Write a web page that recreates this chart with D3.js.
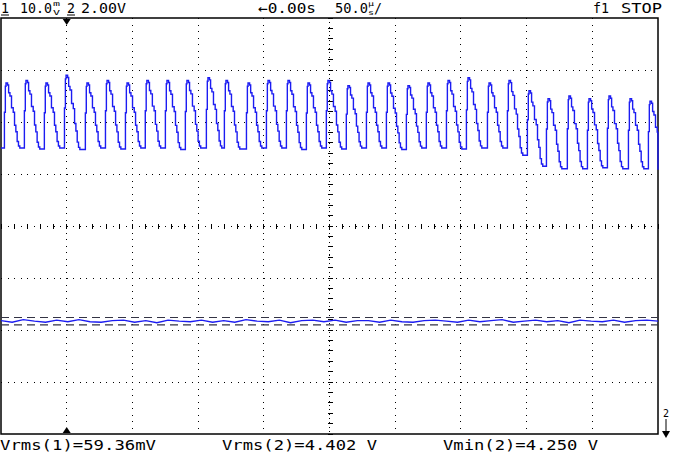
<!DOCTYPE html>
<html>
<head>
<meta charset="utf-8">
<script src="https://cdn.jsdelivr.net/npm/d3@7"></script>
<style>
  body { margin: 0; background: #fff; }
  text { font-family: "DejaVu Sans Mono", monospace; fill: #000; }
</style>
</head>
<body>
<div id="scope"></div>
<script>
// Data (time in µs, 50 µs/div; vertical in divisions from screen centre)
const peakTimes = [3.8, 19, 34.2, 49.5, 65.4, 80.7, 95.9, 111, 126.3, 141.5, 157.5, 171.2, 188,
  203.2, 218.4, 233.6, 248.8, 264, 279.3, 294.5, 309.7, 324.9, 340.2, 355.4, 371.4, 386.6,
  401.8, 416.3, 432.2, 447.5, 462.7, 478.7, 493.9];
const peakLevels = [2.75, 2.8, 2.75, 2.9, 2.75, 2.8, 2.75, 2.8, 2.8, 2.8, 2.85, 2.8, 2.75, 2.8,
  2.8, 2.75, 2.8, 2.7, 2.75, 2.75, 2.7, 2.75, 2.8, 2.85, 2.75, 2.8, 2.6, 2.45, 2.5, 2.45, 2.5, 2.45, 2.4];
const troughLevels = [1.5, 1.48, 1.5, 1.47, 1.5, 1.48, 1.5, 1.5, 1.47, 1.5, 1.5, 1.48, 1.5, 1.5,
  1.47, 1.5, 1.48, 1.5, 1.5, 1.47, 1.5, 1.5, 1.48, 1.5, 1.5, 1.36, 1.15, 1.1, 1.1, 1.12, 1.1, 1.1, 1.08];
// pulse outline relative to its peak: [offset µs, fraction low->high]
const pulseShape = [[-2.0, 0], [-1.2, 0.55], [-0.5, 0.95], [0, 1], [1.2, 0.97], [2.0, 0.85],
  [3.0, 0.8], [4.2, 0.62], [5.5, 0.55], [6.5, 0.35], [7.5, 0.25], [8.5, 0.1], [9.5, 0.03], [10.5, 0]];
const ch2Level = -1.83;
const ch2Noise = [0.01, -0.02, 0.03, 0, -0.02, 0.02, -0.01, 0.03, -0.01, -0.02, 0.01, 0.02, -0.02,
  0.01, -0.03, 0.02, 0, -0.01, 0.02, -0.02, 0.01, -0.02, 0.03, 0, -0.01, 0.02, -0.03, 0.01, 0.02,
  -0.01, 0.02, -0.02, 0.01, 0.01, -0.02, 0.02, -0.01, -0.02, 0.01, 0.02, 0, -0.02, 0.02, -0.01,
  0.01, 0.03, -0.02, 0, 0.02, -0.01, 0.01, -0.03, 0.02, 0, -0.01, 0.02, -0.02, 0.01, 0.02, 0];

const W = 674, H = 452;
const x0 = 1, x1 = 658, yTop = 18, yBot = 434;
const blue = "#1c1cf2";

const svg = d3.select("#scope").append("svg").attr("width", W).attr("height", H);

const x = d3.scaleLinear().domain([0, 500]).range([x0, x1]);
const y = d3.scaleLinear().domain([-4, 4]).range([yBot, yTop]);

// Grid
const g = svg.append("g").attr("stroke", "#000").attr("shape-rendering", "crispEdges");
d3.range(1, 10).filter(d => d !== 5).forEach(d => {
  g.append("line").attr("x1", x(d * 50)).attr("x2", x(d * 50)).attr("y1", yTop).attr("y2", yBot)
    .attr("stroke-dasharray", "1,5.5");
});
d3.range(-3, 4).filter(d => d !== 0).forEach(d => {
  g.append("line").attr("x1", x0).attr("x2", x1).attr("y1", y(d)).attr("y2", y(d))
    .attr("stroke-dasharray", "1,5.57");
});
// centre axes with minor ticks
g.append("line").attr("x1", x0).attr("x2", x1).attr("y1", y(0)).attr("y2", y(0)).attr("stroke-dasharray", "1,5.57");
g.append("line").attr("x1", x(250)).attr("x2", x(250)).attr("y1", yTop).attr("y2", yBot).attr("stroke-dasharray", "1,3.3");
d3.range(0, 501, 10).forEach(t => {
  g.append("line").attr("x1", x(t)).attr("x2", x(t)).attr("y1", y(0) - 2).attr("y2", y(0) + 3);
});
d3.range(-4, 4.01, 0.2).forEach(v => {
  g.append("line").attr("x1", x(250) - 2).attr("x2", x(250) + 3).attr("y1", y(v)).attr("y2", y(v));
});

// Frame
svg.append("rect").attr("x", x0).attr("y", yTop).attr("width", x1 - x0).attr("height", yBot - yTop)
  .attr("fill", "none").attr("stroke", "#000").attr("stroke-width", 1.5);

// Channel 2 trace (pulses)
const ch2Pts = [[0, troughLevels[0]]];
peakTimes.forEach((pt, i) => {
  const lo = troughLevels[i], hi = peakLevels[i];
  const prevLo = i > 0 ? troughLevels[i - 1] : lo;
  pulseShape.forEach(([dt, f], j) => {
    const base = j < 3 ? prevLo : lo;
    ch2Pts.push([pt + dt, base + f * (hi - base)]);
  });
});
const clipPts = ch2Pts.filter(p => p[0] >= 0 && p[0] <= 500);
clipPts.push([500, 1.08]);

const line = d3.line().x(d => x(d[0])).y(d => y(d[1])).curve(d3.curveStepAfter);
svg.append("path").datum(clipPts).attr("d", line)
  .attr("fill", "none").attr("stroke", blue).attr("stroke-width", 1.4);

// Channel 1 trace (flat, noisy) with envelope dashes
const flatLine = d3.line().x(d => x(d[0])).y(d => y(d[1]));
const step = 500 / (ch2Noise.length - 1);
const flat = ch2Noise.map((n, i) => [i * step, ch2Level + n]);
[0.07, -0.07].forEach(o => {
  svg.append("line").attr("x1", x0).attr("x2", x1).attr("y1", y(ch2Level + o)).attr("y2", y(ch2Level + o))
    .attr("stroke", "#334").attr("stroke-width", 1.2).attr("stroke-dasharray", "8,5");
});
svg.append("path").datum(flat).attr("d", flatLine)
  .attr("fill", "none").attr("stroke", blue).attr("stroke-width", 1.4);

// Markers
svg.append("path").attr("d", `M${x(50) - 4},${yTop + 1}L${x(50) + 4},${yTop + 1}L${x(50)},${yTop + 7}Z`).attr("fill", "#000");
svg.append("path").attr("d", `M${x(50) - 4},${yBot - 1}L${x(50) + 4},${yBot - 1}L${x(50)},${yBot - 7}Z`).attr("fill", "#000");
svg.append("text").attr("x", 666).attr("y", 417).attr("font-size", 10).attr("text-anchor", "middle").text("2");
svg.append("line").attr("x1", 666).attr("x2", 666).attr("y1", 419).attr("y2", 436).attr("stroke", "#000");
svg.append("path").attr("d", "M662,431L670,431L666,438Z").attr("fill", "#000");

// Header text
const header = svg.append("g").attr("font-size", 14);
const txt = (sel, xx, yy, s, len, size) => {
  const t = sel.append("text").attr("x", xx).attr("y", yy).text(s);
  if (len) t.attr("textLength", len).attr("lengthAdjust", "spacingAndGlyphs");
  if (size) t.attr("font-size", size);
  return t;
};
txt(header, 1, 13, "1", 8);
header.append("line").attr("x1", 1).attr("x2", 9).attr("y1", 15).attr("y2", 15).attr("stroke", "#000");
txt(header, 20, 13, "10.0", 32);
txt(header, 53, 6, "m", 7, 7);
txt(header, 53, 15, "V", 7, 7);
txt(header, 67, 13, "2", 8);
header.append("line").attr("x1", 67).attr("x2", 75).attr("y1", 15).attr("y2", 15).attr("stroke", "#000");
txt(header, 81, 13, "2.00V", 45);
txt(header, 258, 13, "←0.00s", 58);
txt(header, 335, 13, "50.0", 33);
txt(header, 368, 6, "µ", 6, 7);
txt(header, 368, 15, "s", 6, 7);
txt(header, 374, 13, "/", 8);
txt(header, 593, 13, "f1", 16);
txt(header, 621, 13, "STOP", 41);

// Measurements
const bot = svg.append("g").attr("font-size", 14);
txt(bot, 0, 450, "Vrms(1)=59.36mV", 156);
txt(bot, 222, 450, "Vrms(2)=4.402 V", 155);
txt(bot, 443, 450, "Vmin(2)=4.250 V", 155);
</script>
</body>
</html>
